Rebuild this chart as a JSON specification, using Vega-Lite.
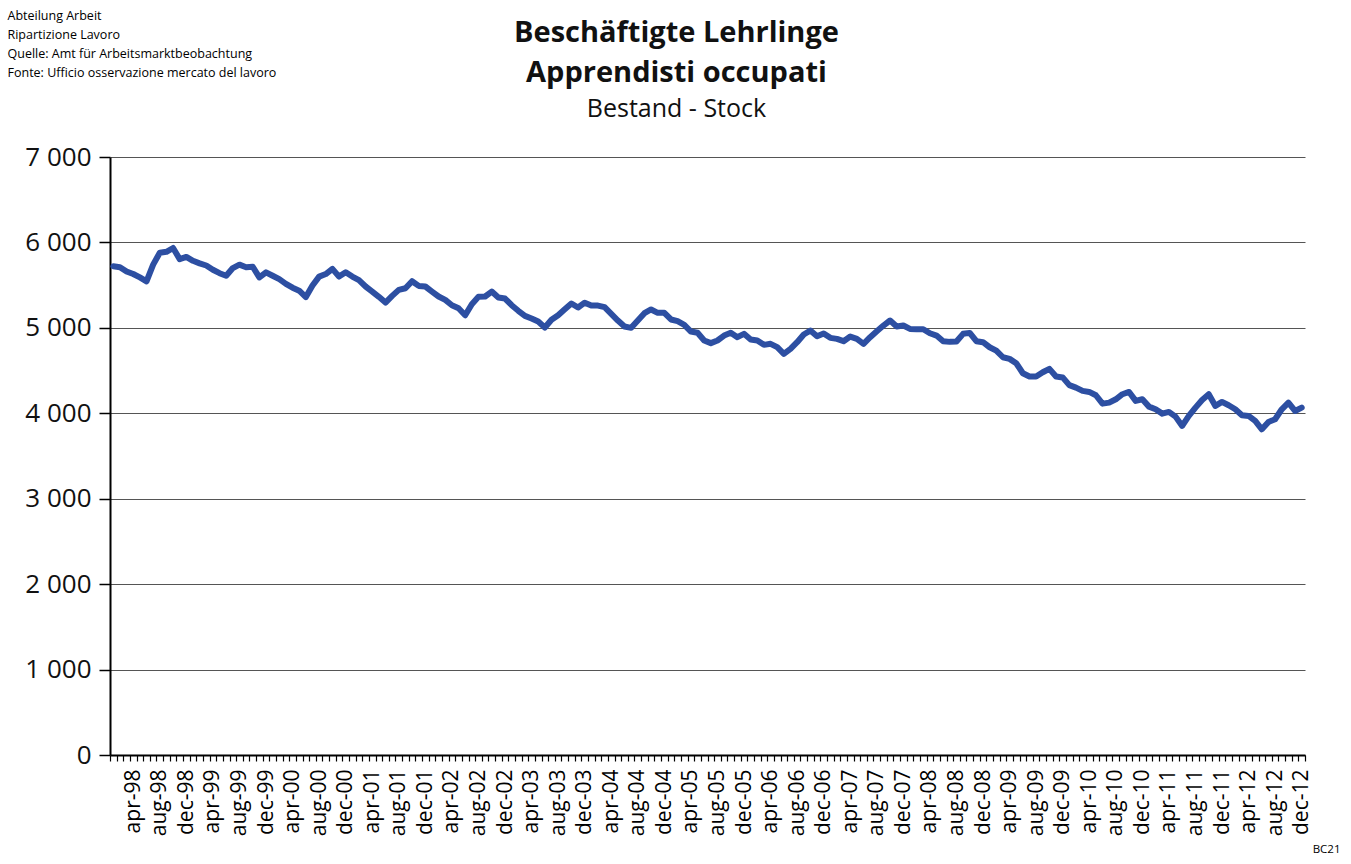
{
  "$schema": "https://vega.github.io/schema/vega-lite/v6.json",
  "autosize": {"type": "none"},
  "width": 1195,
  "height": 598,
  "padding": {"left": 110, "top": 157, "right": 46, "bottom": 109},
  "background": "white",
  "config": {
    "font": "Open Sans",
    "view": {"stroke": null}
  },
  "title": {
    "text": ["Beschäftigte Lehrlinge", "Apprendisti occupati"],
    "subtitle": "Bestand - Stock",
    "font": "Open Sans",
    "subtitleFont": "Open Sans",
    "fontSize": 29,
    "fontWeight": "bold",
    "lineHeight": 40,
    "subtitleFontSize": 25,
    "subtitleColor": "#111",
    "subtitlePadding": 9,
    "color": "#111",
    "anchor": "middle",
    "frame": "group",
    "dx": -31,
    "offset": -113
  },
  "data": {
    "values": [
      {"m": "jan-98", "v": 5720}, {"m": "feb-98", "v": 5710}, {"m": "mar-98", "v": 5660}, {"m": "apr-98", "v": 5630}, {"m": "may-98", "v": 5590}, {"m": "jun-98", "v": 5545}, {"m": "jul-98", "v": 5740}, {"m": "aug-98", "v": 5880}, {"m": "sep-98", "v": 5890}, {"m": "oct-98", "v": 5935}, {"m": "nov-98", "v": 5805}, {"m": "dec-98", "v": 5830},
      {"m": "jan-99", "v": 5785}, {"m": "feb-99", "v": 5755}, {"m": "mar-99", "v": 5730}, {"m": "apr-99", "v": 5680}, {"m": "may-99", "v": 5640}, {"m": "jun-99", "v": 5610}, {"m": "jul-99", "v": 5700}, {"m": "aug-99", "v": 5740}, {"m": "sep-99", "v": 5710}, {"m": "oct-99", "v": 5715}, {"m": "nov-99", "v": 5590}, {"m": "dec-99", "v": 5650},
      {"m": "jan-00", "v": 5610}, {"m": "feb-00", "v": 5570}, {"m": "mar-00", "v": 5515}, {"m": "apr-00", "v": 5470}, {"m": "may-00", "v": 5435}, {"m": "jun-00", "v": 5360}, {"m": "jul-00", "v": 5495}, {"m": "aug-00", "v": 5600}, {"m": "sep-00", "v": 5630}, {"m": "oct-00", "v": 5690}, {"m": "nov-00", "v": 5600}, {"m": "dec-00", "v": 5650},
      {"m": "jan-01", "v": 5600}, {"m": "feb-01", "v": 5558}, {"m": "mar-01", "v": 5484}, {"m": "apr-01", "v": 5425}, {"m": "may-01", "v": 5363}, {"m": "jun-01", "v": 5296}, {"m": "jul-01", "v": 5374}, {"m": "aug-01", "v": 5445}, {"m": "sep-01", "v": 5464}, {"m": "oct-01", "v": 5546}, {"m": "nov-01", "v": 5491}, {"m": "dec-01", "v": 5484},
      {"m": "jan-02", "v": 5425}, {"m": "feb-02", "v": 5367}, {"m": "mar-02", "v": 5328}, {"m": "apr-02", "v": 5265}, {"m": "may-02", "v": 5230}, {"m": "jun-02", "v": 5148}, {"m": "jul-02", "v": 5277}, {"m": "aug-02", "v": 5363}, {"m": "sep-02", "v": 5367}, {"m": "oct-02", "v": 5425}, {"m": "nov-02", "v": 5355}, {"m": "dec-02", "v": 5343},
      {"m": "jan-03", "v": 5265}, {"m": "feb-03", "v": 5200}, {"m": "mar-03", "v": 5140}, {"m": "apr-03", "v": 5110}, {"m": "may-03", "v": 5074}, {"m": "jun-03", "v": 5004}, {"m": "jul-03", "v": 5094}, {"m": "aug-03", "v": 5148}, {"m": "sep-03", "v": 5218}, {"m": "oct-03", "v": 5285}, {"m": "nov-03", "v": 5238}, {"m": "dec-03", "v": 5295},
      {"m": "jan-04", "v": 5261}, {"m": "feb-04", "v": 5261}, {"m": "mar-04", "v": 5242}, {"m": "apr-04", "v": 5164}, {"m": "may-04", "v": 5086}, {"m": "jun-04", "v": 5016}, {"m": "jul-04", "v": 5000}, {"m": "aug-04", "v": 5086}, {"m": "sep-04", "v": 5172}, {"m": "oct-04", "v": 5215}, {"m": "nov-04", "v": 5176}, {"m": "dec-04", "v": 5176},
      {"m": "jan-05", "v": 5098}, {"m": "feb-05", "v": 5078}, {"m": "mar-05", "v": 5035}, {"m": "apr-05", "v": 4957}, {"m": "may-05", "v": 4942}, {"m": "jun-05", "v": 4852}, {"m": "jul-05", "v": 4821}, {"m": "aug-05", "v": 4852}, {"m": "sep-05", "v": 4910}, {"m": "oct-05", "v": 4942}, {"m": "nov-05", "v": 4891}, {"m": "dec-05", "v": 4930},
      {"m": "jan-06", "v": 4864}, {"m": "feb-06", "v": 4852}, {"m": "mar-06", "v": 4801}, {"m": "apr-06", "v": 4813}, {"m": "may-06", "v": 4774}, {"m": "jun-06", "v": 4696}, {"m": "jul-06", "v": 4754}, {"m": "aug-06", "v": 4832}, {"m": "sep-06", "v": 4922}, {"m": "oct-06", "v": 4969}, {"m": "nov-06", "v": 4902}, {"m": "dec-06", "v": 4935},
      {"m": "jan-07", "v": 4883}, {"m": "feb-07", "v": 4871}, {"m": "mar-07", "v": 4844}, {"m": "apr-07", "v": 4898}, {"m": "may-07", "v": 4871}, {"m": "jun-07", "v": 4813}, {"m": "jul-07", "v": 4891}, {"m": "aug-07", "v": 4961}, {"m": "sep-07", "v": 5027}, {"m": "oct-07", "v": 5086}, {"m": "nov-07", "v": 5016}, {"m": "dec-07", "v": 5027},
      {"m": "jan-08", "v": 4988}, {"m": "feb-08", "v": 4984}, {"m": "mar-08", "v": 4984}, {"m": "apr-08", "v": 4937}, {"m": "may-08", "v": 4910}, {"m": "jun-08", "v": 4844}, {"m": "jul-08", "v": 4836}, {"m": "aug-08", "v": 4840}, {"m": "sep-08", "v": 4930}, {"m": "oct-08", "v": 4941}, {"m": "nov-08", "v": 4844}, {"m": "dec-08", "v": 4832},
      {"m": "jan-09", "v": 4773}, {"m": "feb-09", "v": 4734}, {"m": "mar-09", "v": 4656}, {"m": "apr-09", "v": 4637}, {"m": "may-09", "v": 4586}, {"m": "jun-09", "v": 4469}, {"m": "jul-09", "v": 4430}, {"m": "aug-09", "v": 4430}, {"m": "sep-09", "v": 4480}, {"m": "oct-09", "v": 4520}, {"m": "nov-09", "v": 4430}, {"m": "dec-09", "v": 4420},
      {"m": "jan-10", "v": 4330}, {"m": "feb-10", "v": 4301}, {"m": "mar-10", "v": 4262}, {"m": "apr-10", "v": 4250}, {"m": "may-10", "v": 4211}, {"m": "jun-10", "v": 4113}, {"m": "jul-10", "v": 4125}, {"m": "aug-10", "v": 4164}, {"m": "sep-10", "v": 4223}, {"m": "oct-10", "v": 4250}, {"m": "nov-10", "v": 4145}, {"m": "dec-10", "v": 4164},
      {"m": "jan-11", "v": 4078}, {"m": "feb-11", "v": 4047}, {"m": "mar-11", "v": 3996}, {"m": "apr-11", "v": 4016}, {"m": "may-11", "v": 3961}, {"m": "jun-11", "v": 3852}, {"m": "jul-11", "v": 3969}, {"m": "aug-11", "v": 4066}, {"m": "sep-11", "v": 4156}, {"m": "oct-11", "v": 4223}, {"m": "nov-11", "v": 4086}, {"m": "dec-11", "v": 4133},
      {"m": "jan-12", "v": 4094}, {"m": "feb-12", "v": 4047}, {"m": "mar-12", "v": 3977}, {"m": "apr-12", "v": 3969}, {"m": "may-12", "v": 3910}, {"m": "jun-12", "v": 3813}, {"m": "jul-12", "v": 3898}, {"m": "aug-12", "v": 3930}, {"m": "sep-12", "v": 4047}, {"m": "oct-12", "v": 4125}, {"m": "nov-12", "v": 4027}, {"m": "dec-12", "v": 4066}
    ]
  },
  "mark": {"type": "line", "color": "#2D4FA2", "strokeWidth": 6, "strokeJoin": "round", "strokeCap": "round"},
  "encoding": {
    "x": {
      "field": "m",
      "type": "ordinal",
      "sort": null,
      "scale": {"paddingInner": 0, "paddingOuter": 0},
      "axis": {
        "title": "BC21",
        "titleFont": "Open Sans",
        "titleFontSize": 11.5,
        "titleFontWeight": "normal",
        "titleColor": "#000",
        "titleAlign": "right",
        "titleAnchor": "end",
        "titleBaseline": "alphabetic",
        "titleX": 1230,
        "titleY": 97,
        "tickBand": "extent",
        "tickSize": 6,
        "tickWidth": 1.2,
        "tickColor": "#000",
        "domainColor": "#000",
        "domainWidth": 2,
        "labelAngle": -90,
        "labelFontSize": 21,
        "labelColor": "#000",
        "labelPadding": 8,
        "labelOverlap": false,
        "labelExpr": "test(/^(apr|aug|dec)/, datum.label) ? datum.label : ''",
        "grid": false
      }
    },
    "y": {
      "field": "v",
      "type": "quantitative",
      "scale": {"domain": [0, 7000], "nice": false, "zero": true},
      "axis": {
        "values": [0, 1000, 2000, 3000, 4000, 5000, 6000, 7000],
        "labelExpr": "replace(format(datum.value, ','), ',', ' ')",
        "labelFontSize": 26,
        "labelColor": "#111",
        "labelPadding": 8,
        "tickSize": 11,
        "tickWidth": 1.5,
        "tickColor": "#000",
        "domainColor": "#000",
        "domainWidth": 2,
        "grid": true,
        "gridColor": "#555",
        "gridWidth": 1,
        "title": ["Abteilung Arbeit", "Ripartizione Lavoro", "Quelle: Amt für Arbeitsmarktbeobachtung", "Fonte: Ufficio osservazione mercato del lavoro"],
        "titleAngle": 0,
        "titleAlign": "left",
        "titleBaseline": "alphabetic",
        "titleX": -103,
        "titleY": -138,
        "titleFont": "Open Sans",
        "titleFontSize": 12.5,
        "titleFontWeight": "normal",
        "titleLineHeight": 19.3,
        "titleColor": "#000"
      }
    }
  }
}
